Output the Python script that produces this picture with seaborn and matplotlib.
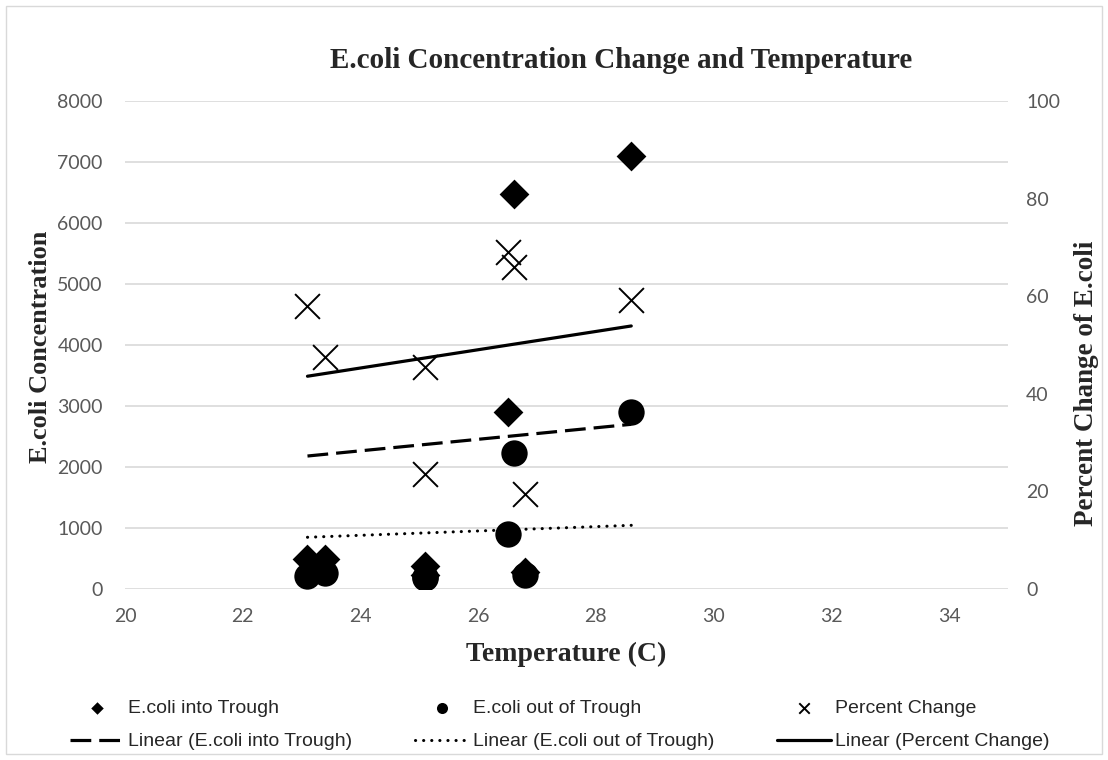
import matplotlib.pyplot as plt
import matplotlib.patches as mpatches
import seaborn as sns

# datos (temperatura en C)
temperatura = [23.1, 23.4, 25.1, 25.1, 26.5, 26.6, 26.8, 28.6]
ecoli_entrada = [500, 500, 370, 230, 2900, 6475, 280, 7100]
ecoli_salida = [210, 262, 200, 175, 900, 2230, 225, 2900]
cambio_pct = [58.0, 47.5, 45.5, 23.6, 69.0, 66.0, 19.5, 59.2]

# lineas de tendencia "Linear" de Excel (extremos)
tend_x = [23.1, 28.6]
tend_entrada = [2180, 2700]
tend_salida = [848, 1044]
tend_pct = [43.6, 53.9]

xticks = list(range(20, 35, 2))
yticks = list(range(0, 8001, 1000))
yticks_der = list(range(0, 101, 20))

sns.set_style("white")
plt.rcParams['font.family'] = ['Lato', 'DejaVu Sans']

fig = plt.figure(figsize=(11.08, 7.6), dpi=100)
ax = fig.add_axes([125 / 1108, 1 - 589 / 760, 883 / 1108, 488 / 760])
ax2 = ax.twinx()

# series de puntos
sns.scatterplot(x=temperatura, y=ecoli_entrada, ax=ax, marker='D', color='black',
                s=230, linewidth=0, label='E.coli into Trough', legend=False, zorder=3)
sns.scatterplot(x=temperatura, y=ecoli_salida, ax=ax, marker='o', color='black',
                s=360, linewidth=0, label='E.coli out of Trough', legend=False, zorder=3)
sns.scatterplot(x=temperatura, y=cambio_pct, ax=ax2, marker='x', color='black',
                s=320, linewidth=1.4, label='Percent Change', legend=False, zorder=3)

# tendencias
sns.lineplot(x=tend_x, y=tend_entrada, ax=ax, color='black', lw=2.3,
             linestyle=(0, (6.5, 2.5)), label='Linear (E.coli into Trough)', legend=False)
sns.lineplot(x=tend_x, y=tend_salida, ax=ax, color='black', lw=2.2,
             linestyle=(0, (0.05, 2.6)), dash_capstyle='round', label='Linear (E.coli out of Trough)', legend=False)
sns.lineplot(x=tend_x, y=tend_pct, ax=ax2, color='black', lw=2.3,
             label='Linear (Percent Change)', legend=False)

ax.set_xlim(20, 35)
ax.set_ylim(0, 8000)
ax2.set_ylim(0, 100)
ax.set_xticks(xticks)
ax.set_yticks(yticks)
ax2.set_yticks(yticks_der)

ax.grid(axis='y', color='#d9d9d9', lw=1.2)
ax.grid(axis='x', visible=False)
ax2.grid(False)
for a in (ax, ax2):
    for s in a.spines.values():
        s.set_visible(False)
ax.tick_params(axis='x', length=0, pad=14, labelsize=14, labelcolor='#595959')
ax.tick_params(axis='y', length=0, pad=16, labelsize=14, labelcolor='#595959')
ax2.tick_params(axis='y', length=0, pad=13, labelsize=14, labelcolor='#595959')

serif = ['Liberation Serif', 'DejaVu Serif']
ax.set_xlabel('Temperature (C)', family=serif, fontweight='bold', fontsize=20, labelpad=12)
ax.set_ylabel('E.coli Concentration', family=serif, fontweight='bold', fontsize=19, labelpad=6)
ax2.set_ylabel('Percent Change of E.coli', family=serif, fontweight='bold', fontsize=19.5, labelpad=2)
ax2.yaxis.set_label_coords((1074 - 125) / 883, (589 - 383) / 488)
ax.yaxis.set_label_coords((52 - 125) / 883, (589 - 347) / 488)
fig.text(621 / 1108, 1 - 68 / 760, 'E.coli Concentration Change and Temperature', family=serif,
         fontweight='bold', fontsize=21, ha='center', va='baseline')

# leyenda en dos filas: puntos arriba, tendencias abajo
h1, l1 = ax.get_legend_handles_labels()
h2, l2 = ax2.get_legend_handles_labels()
hs = [h1[0], h1[2], h1[1], h1[3], h2[0], h2[1]]
ls = [l1[0], l1[2], l1[1], l1[3], l2[0], l2[1]]
fig.legend(hs, ls, ncol=3, loc='center left', bbox_to_anchor=(70 / 1108, 1 - 725 / 760), frameon=False,
           markerscale=0.42, handlelength=2.8, handletextpad=0.2, columnspacing=3.2, labelspacing=0.8,
           borderpad=0, borderaxespad=0,
           prop={'family': ['Liberation Sans', 'DejaVu Sans'], 'size': 14})

fig.patches.append(mpatches.Rectangle((6 / 1108, 6 / 760), 1096 / 1108, 748 / 760, transform=fig.transFigure,
                                      fill=False, edgecolor='#d9d9d9', lw=1))

plt.savefig('out.png', dpi=100)
